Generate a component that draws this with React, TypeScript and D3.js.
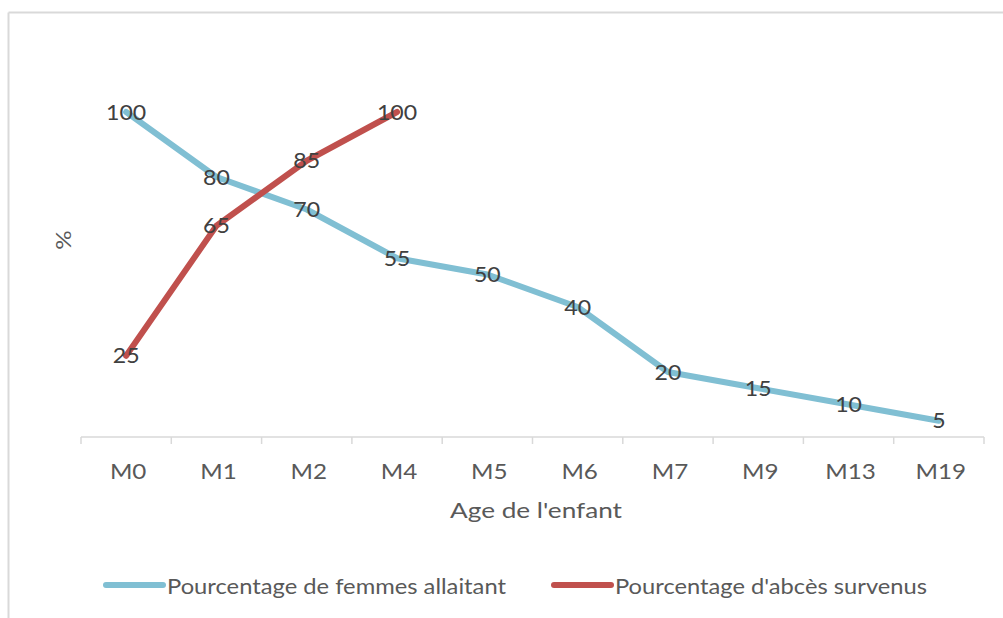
import React from "react";
import * as d3 from "d3";

const categories = ["M0", "M1", "M2", "M4", "M5", "M6", "M7", "M9", "M13", "M19"];
const femmesAllaitant = [100, 80, 70, 55, 50, 40, 20, 15, 10, 5];
const abcesCategories = ["M0", "M1", "M2", "M4"];
const abcesSurvenus = [25, 65, 85, 100];
const seriesNames = ["Pourcentage de femmes allaitant", "Pourcentage d'abcès survenus"];
const xTitle = "Age de l'enfant";
const yTitle = "%";

const W = 1003;
const H = 618;
const FONT = "Lato, 'Open Sans', sans-serif";
const BLUE = "#80bfd3";
const RED = "#c0504d";
const SX = 1.1;

export default function App() {
  const x = d3.scaleBand<string>().domain(categories).range([81, 984]);
  const y = d3.scaleLinear().domain([0, 120]).range([437, 47]);
  const cx = (c: string) => (x(c) as number) + x.bandwidth() / 2;

  const line = d3
    .line<[string, number]>()
    .x((d) => cx(d[0]))
    .y((d) => y(d[1]));

  const blueData: [string, number][] = categories.map((c, i) => [c, femmesAllaitant[i]]);
  const redData: [string, number][] = abcesCategories.map((c, i) => [c, abcesSurvenus[i]]);

  const boundaries = [...categories.map((c) => x(c) as number), x.range()[1]];

  return (
    <svg
      width={W}
      height={H}
      style={{ position: "absolute", left: 0, top: 0, background: "#fff" }}
      fontFamily={FONT}
    >
      <rect x={0} y={0} width={W} height={H} fill="#fff" />
      <line x1={8.5} y1={12.5} x2={W} y2={12.5} stroke="#d9d9d9" strokeWidth={2} />
      <line x1={8.5} y1={12.5} x2={8.5} y2={H} stroke="#d9d9d9" strokeWidth={2} />

      {/* x axis */}
      <line x1={81} y1={y(0)} x2={984} y2={y(0)} stroke="#d9d9d9" strokeWidth={1.5} />
      {boundaries.map((b, i) => (
        <line key={i} x1={b} y1={y(0)} x2={b} y2={y(0) + 7} stroke="#d9d9d9" strokeWidth={1.5} />
      ))}
      {categories.map((c) => (
        <text
          key={c}
          transform={`translate(${cx(c) + 2},479) scale(${SX},1)`}
          textAnchor="middle"
          fontSize={22}
          fill="#595959"
        >
          {c}
        </text>
      ))}
      <text x={450} y={518} fontSize={22} fill="#595959" textLength={172} lengthAdjust="spacingAndGlyphs">
        {xTitle}
      </text>
      <text
        transform={`translate(71,240) rotate(-90) scale(${SX},1)`}
        textAnchor="middle"
        fontSize={22}
        fill="#595959"
      >
        {yTitle}
      </text>

      {/* lines */}
      <path d={line(blueData) || ""} fill="none" stroke={BLUE} strokeWidth={6} strokeLinejoin="round" strokeLinecap="round" />
      <path d={line(redData) || ""} fill="none" stroke={RED} strokeWidth={6} strokeLinejoin="round" strokeLinecap="round" />

      {/* data labels */}
      {[...blueData.map((d) => ["b", d] as const), ...redData.map((d) => ["r", d] as const)].map(([k, [c, v]]) => (
        <text
          key={k + c}
          transform={`translate(${cx(c)},${y(v)}) scale(${SX},1)`}
          dy="0.36em"
          textAnchor="middle"
          fontSize={21}
          fill="#404040"
        >
          {v}
        </text>
      ))}

      {/* legend */}
      <line x1={106} y1={585} x2={163} y2={585} stroke={BLUE} strokeWidth={6} strokeLinecap="round" />
      <text x={167} y={594} fontSize={22} fill="#595959" textLength={339} lengthAdjust="spacingAndGlyphs">
        {seriesNames[0]}
      </text>
      <line x1={554} y1={585} x2={611} y2={585} stroke={RED} strokeWidth={6} strokeLinecap="round" />
      <text x={615} y={594} fontSize={22} fill="#595959" textLength={312} lengthAdjust="spacingAndGlyphs">
        {seriesNames[1]}
      </text>
    </svg>
  );
}
